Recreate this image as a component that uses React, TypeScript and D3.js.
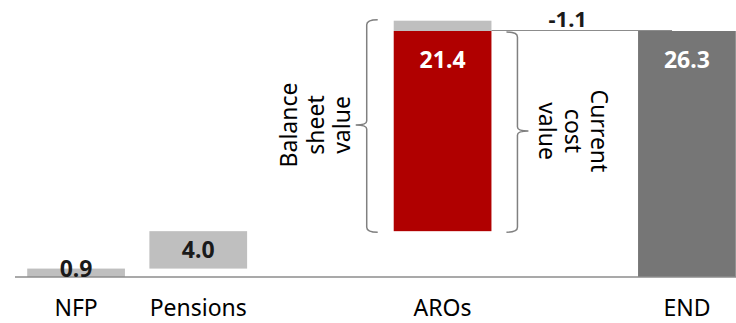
import React from "react";
import * as d3 from "d3";

const slots = ["NFP", "Pensions", "gap", "AROs", "adj", "END"];
const axisLabels = ["NFP", "Pensions", "", "AROs", "", "END"];
const nfpValue = 0.9;
const pensionsValue = 4.0;
const arosValue = 21.4;
const adjustmentValue = -1.1;
const endValue = 26.3;

const W = 736;
const H = 323;
const FONT = "'Noto Sans', 'Liberation Sans', Arial, sans-serif";

export default function App() {
  const x = d3.scaleBand<string>().domain(slots).range([15, 748]).paddingInner(0.2).paddingOuter(0.1);
  const y = d3.scaleLinear().domain([0, endValue]).range([277, 31]);
  const bw = x.bandwidth();

  const nfpBase = 0;
  const pensBase = nfpBase + nfpValue;
  const arosBase = pensBase + pensionsValue;
  const arosTop = arosBase + arosValue;
  const bsTop = arosTop - adjustmentValue;

  const bars = [
    { slot: "NFP", y0: nfpBase, y1: pensBase, fill: "#bfbfbf" },
    { slot: "Pensions", y0: pensBase, y1: arosBase, fill: "#bfbfbf" },
    { slot: "AROs", y0: arosTop, y1: bsTop, fill: "#bfbfbf" },
    { slot: "AROs", y0: arosBase, y1: arosTop, fill: "#b00000" },
    { slot: "END", y0: 0, y1: endValue, fill: "#767676" },
  ];

  const xa = x("AROs")!;
  const xe = x("END")!;
  const lb = { x: xa - 27, top: y(bsTop) - 1, bot: y(arosBase) + 1, mid: 125 };
  const rb = { x: xa + bw + 26, top: y(arosTop) + 1, bot: y(arosBase) + 1, mid: 131 };

  const brace = (vx: number, top: number, bot: number, mid: number, dir: number) => {
    const hook = -dir * 11;
    const tip = dir * 11;
    return `M${vx + hook},${top} Q${vx},${top} ${vx},${top + 5} L${vx},${mid - 4} Q${vx},${mid} ${vx + tip},${mid} Q${vx},${mid} ${vx},${mid + 4} L${vx},${bot - 5} Q${vx},${bot} ${vx + hook},${bot}`;
  };

  return (
    <svg width={W} height={H} style={{ position: "absolute", left: 0, top: 0, background: "#fff" }}>
      {bars.map((b, i) => (
        <rect key={i} x={x(b.slot)} y={y(b.y1)} width={bw} height={y(b.y0) - y(b.y1)} fill={b.fill} />
      ))}
      <line x1={15} x2={W} y1={y(0)} y2={y(0)} stroke="#8c8c8c" strokeWidth={1.5} />
      <line x1={xa + bw} x2={xe + 34} y1={y(arosTop) - 0.5} y2={y(arosTop) - 0.5} stroke="#8c8c8c" strokeWidth={1.2} />
      <path d={brace(lb.x, lb.top, lb.bot, lb.mid, -1)} fill="none" stroke="#808080" strokeWidth={1.5} />
      <path d={brace(rb.x, rb.top, rb.bot, rb.mid, 1)} fill="none" stroke="#808080" strokeWidth={1.5} />

      {["Balance", "sheet", "value"].map((t, i) => (
        <text key={t} transform={`translate(${297 + i * 26.5},${lb.mid}) rotate(-90)`} textAnchor="middle"
          fontFamily={FONT} fontSize={23} fill="#000">{t}</text>
      ))}
      {["Current", "cost", "value"].map((t, i) => (
        <text key={t} transform={`translate(${591 - i * 26},${rb.mid}) rotate(90)`} textAnchor="middle"
          fontFamily={FONT} fontSize={23} fill="#000">{t}</text>
      ))}

      <text x={x("NFP")! + bw / 2} y={y(0)} textAnchor="middle" fontFamily={FONT} fontSize={23} fontWeight="bold" fill="#1a1a1a">{nfpValue.toFixed(1)}</text>
      <text x={x("Pensions")! + bw / 2} y={(y(pensBase) + y(arosBase)) / 2 + 8} textAnchor="middle" fontFamily={FONT} fontSize={23} fontWeight="bold" fill="#1a1a1a">{pensionsValue.toFixed(1)}</text>
      <text x={xa + bw / 2} y={y(arosTop) + 37} textAnchor="middle" fontFamily={FONT} fontSize={23} fontWeight="bold" fill="#fff">{arosValue.toFixed(1)}</text>
      <text x={x("adj")! + bw / 2 + 3} y={27} textAnchor="middle" fontFamily={FONT} fontSize={22} fontWeight="bold" fill="#1a1a1a">{adjustmentValue.toFixed(1)}</text>
      <text x={xe + bw / 2} y={y(endValue) + 37} textAnchor="middle" fontFamily={FONT} fontSize={23} fontWeight="bold" fill="#fff">{endValue.toFixed(1)}</text>

      {axisLabels.map((l, i) => l ? (
        <text key={i} x={x(slots[i])! + bw / 2} y={316} textAnchor="middle" fontFamily={FONT} fontSize={23} fill="#000">{l}</text>
      ) : null)}
    </svg>
  );
}
